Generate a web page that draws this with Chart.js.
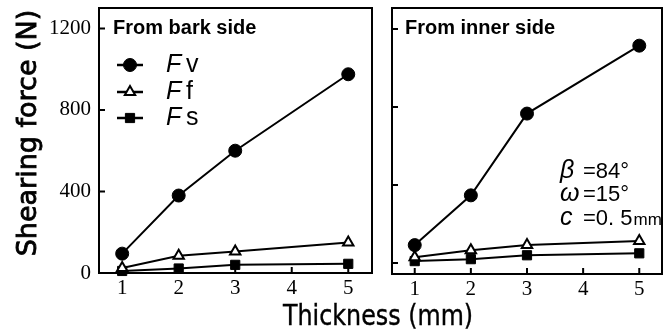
<!DOCTYPE html>
<html lang="en">
<head>
    <meta charset="UTF-8">
    <title>Shearing force vs thickness</title>
    <script src="https://cdn.jsdelivr.net/npm/chart.js"></script>
    <style>
        body { margin: 0; background: #fff; }
        #wrap { position: relative; width: 670px; height: 329px; overflow: hidden; }
        .panel { position: absolute; top: 0; height: 329px; }
        #ytitle {
            position: absolute; left: -103px; top: 117px; width: 260px; height: 32px;
            line-height: 32px; text-align: center; white-space: nowrap;
            font: 27px "DejaVu Sans"; color: #000; transform: rotate(-90deg);
            -webkit-text-stroke: 0.8px #000;
        }
        #xtitle {
            position: absolute; left: 283px; top: 299px; line-height: 28px; white-space: nowrap;
            font: 28px "DejaVu Sans"; color: #000; transform: scaleX(0.85); transform-origin: left top;
            -webkit-text-stroke: 0.4px #000;
        }
    </style>
</head>
<body>
    <div id="wrap">
        <div class="panel" style="left: 0; width: 380px;"><canvas id="barkChart"></canvas></div>
        <div class="panel" style="left: 380px; width: 290px;"><canvas id="innerChart"></canvas></div>
        <div id="ytitle">Shearing force (N)</div>
        <div id="xtitle">Thickness (mm)</div>
    </div>

    <script>
        // values
        const thickness = [1, 2, 3, 5];
        const xTicks = [1, 2, 3, 4, 5];
        const yTicks = [0, 400, 800, 1200];
        const seriesNames = ['Fv', 'Ff', 'Fs'];
        const barkFv = [95, 380, 600, 975];
        const barkFf = [25, 85, 105, 150];
        const barkFs = [10, 22, 40, 45];
        const innerFv = [92, 347, 766, 1114];
        const innerFf = [30, 66, 92, 113];
        const innerFs = [10, 20, 40, 50];
        const conditions = [['\u03b2', '=84\u00b0', ''], ['\u03c9', '=15\u00b0', ''], ['c', '=0. 5', 'mm']];

        const markerStyles = [
            { pointStyle: 'circle', pointRadius: 6.5, pointBackgroundColor: '#000', pointBorderWidth: 1 },
            { pointStyle: 'triangle', pointRadius: 6, pointBackgroundColor: '#fff', pointBorderWidth: 2 },
            { pointStyle: 'rect', pointRadius: 6.5, pointBackgroundColor: '#000', pointBorderWidth: 1 }
        ];

        function makeDatasets(series) {
            return series.map((values, i) => Object.assign({
                label: seriesNames[i],
                data: values.map((v, j) => ({ x: thickness[j], y: v })),
                borderColor: '#000',
                borderWidth: 2,
                pointBorderColor: '#000',
                tension: 0,
                clip: false
            }, markerStyles[i]));
        }

        function makeOptions(cfg) {
            const tickFont = { family: '"Liberation Serif", serif', size: 21 };
            return {
                responsive: true,
                maintainAspectRatio: false,
                animation: false,
                layout: { padding: cfg.padding },
                plugins: { legend: { display: false }, tooltip: { enabled: false } },
                scales: {
                    x: {
                        type: 'linear', min: cfg.xMin, max: cfg.xMax,
                        afterBuildTicks: s => { s.ticks = xTicks.map(v => ({ value: v })); },
                        afterFit: s => { s.height = cfg.xHeight; s.paddingLeft = 0; s.paddingRight = 0; },
                        grid: { display: false, drawTicks: false },
                        border: { display: false },
                        ticks: { color: '#000', font: tickFont, padding: 3, autoSkip: false, maxRotation: 0, callback: v => String(v) }
                    },
                    y: {
                        type: 'linear', min: cfg.yMin, max: cfg.yMax,
                        afterBuildTicks: s => { s.ticks = yTicks.map(v => ({ value: v })); },
                        afterFit: s => { s.width = cfg.yWidth; s.paddingTop = 0; s.paddingBottom = 0; },
                        grid: { display: false, drawTicks: false },
                        border: { display: false },
                        ticks: { display: cfg.yLabels, color: '#000', font: tickFont, padding: 8, callback: v => String(v) }
                    }
                }
            };
        }

        // box round the plot area plus inward tick marks
        const framePlugin = {
            id: 'frame',
            beforeDatasetsDraw(chart) {
                const { ctx, chartArea: a, scales } = chart;
                ctx.save();
                ctx.strokeStyle = '#000';
                ctx.lineWidth = 2;
                ctx.strokeRect(a.left, a.top, a.right - a.left, a.bottom - a.top);
                ctx.beginPath();
                xTicks.forEach(v => {
                    const px = scales.x.getPixelForValue(v);
                    ctx.moveTo(px, a.bottom);
                    ctx.lineTo(px, a.bottom - 6);
                });
                yTicks.forEach(v => {
                    const py = scales.y.getPixelForValue(v);
                    ctx.moveTo(a.left, py);
                    ctx.lineTo(a.left + 6, py);
                });
                ctx.stroke();
                ctx.restore();
            }
        };

        function panelTitle(text, x) {
            return {
                id: 'panelTitle',
                afterDraw(chart) {
                    const ctx = chart.ctx;
                    ctx.save();
                    ctx.fillStyle = '#000';
                    ctx.font = 'bold 20px "Liberation Sans"';
                    ctx.textBaseline = 'alphabetic';
                    ctx.fillText(text, x, 34);
                    ctx.restore();
                }
            };
        }

        const legendPlugin = {
            id: 'seriesLegend',
            afterDraw(chart) {
                const ctx = chart.ctx;
                const rows = [65, 92, 118];
                ctx.save();
                seriesNames.forEach((name, i) => {
                    const y = rows[i];
                    const st = markerStyles[i];
                    ctx.strokeStyle = '#000';
                    ctx.lineWidth = 2.5;
                    ctx.beginPath();
                    ctx.moveTo(117, y);
                    ctx.lineTo(143, y);
                    ctx.stroke();
                    ctx.fillStyle = st.pointBackgroundColor;
                    ctx.lineWidth = st.pointBorderWidth;
                    Chart.helpers.drawPoint(ctx, {
                        pointStyle: st.pointStyle, radius: st.pointRadius,
                        borderWidth: st.pointBorderWidth, rotation: 0
                    }, 130, y);
                    ctx.fillStyle = '#000';
                    ctx.textBaseline = 'middle';
                    ctx.font = 'italic 25px "Liberation Sans"';
                    ctx.fillText(name[0], 166, y);
                    ctx.font = '25px "Liberation Sans"';
                    ctx.fillText(name.slice(1), 186, y);
                });
                ctx.restore();
            }
        };

        const conditionsPlugin = {
            id: 'conditions',
            afterDraw(chart) {
                const ctx = chart.ctx;
                const baselines = [178, 201, 225];
                ctx.save();
                ctx.fillStyle = '#000';
                ctx.textBaseline = 'alphabetic';
                conditions.forEach((c, i) => {
                    const y = baselines[i];
                    ctx.font = 'italic 25px "Liberation Sans"';
                    ctx.fillText(c[0], 180, y);
                    ctx.font = '22px "Liberation Sans"';
                    ctx.fillText(c[1], 203, y);
                    if (c[2]) {
                        const w = ctx.measureText(c[1]).width;
                        ctx.font = '17px "Liberation Sans"';
                        ctx.fillText(c[2], 203 + w + 1, y);
                    }
                });
                ctx.restore();
            }
        };

        new Chart(document.getElementById('barkChart'), {
            type: 'line',
            data: { datasets: makeDatasets([barkFv, barkFf, barkFs]) },
            options: makeOptions({
                padding: { top: 7, right: 8, left: 0, bottom: 0 },
                xMin: 0.59, xMax: 5.42, xHeight: 56,
                yMin: 0, yMax: 1300, yWidth: 99, yLabels: true
            }),
            plugins: [framePlugin, panelTitle('From bark side', 113), legendPlugin]
        });

        new Chart(document.getElementById('innerChart'), {
            type: 'line',
            data: { datasets: makeDatasets([innerFv, innerFf, innerFs]) },
            options: makeOptions({
                padding: { top: 7, right: 5, left: 0, bottom: 0 },
                xMin: 0.595, xMax: 5.405, xHeight: 55,
                yMin: -56, yMax: 1307, yWidth: 12, yLabels: false
            }),
            plugins: [framePlugin, panelTitle('From inner side', 25), conditionsPlugin]
        });
    </script>
</body>
</html>
